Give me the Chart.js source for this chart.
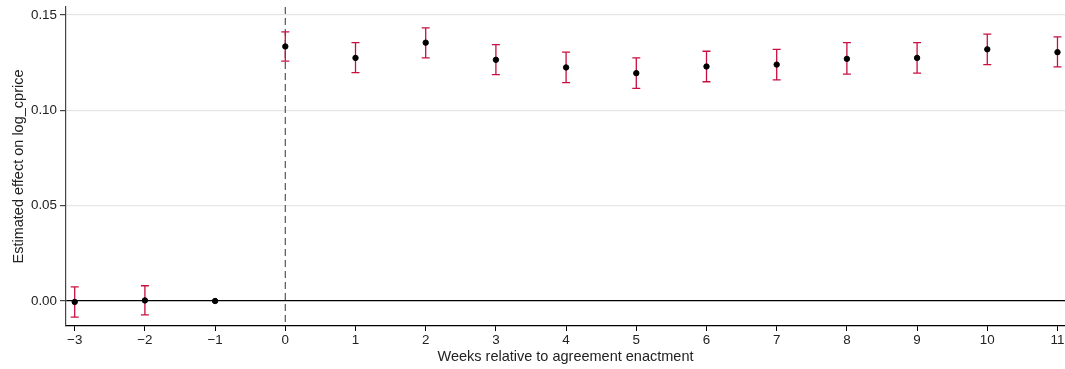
<!DOCTYPE html>
<html>
<head>
<meta charset="utf-8">
<script src="https://cdn.jsdelivr.net/npm/chart.js@4.4.1/dist/chart.umd.min.js"></script>
<style>
  html, body { margin: 0; padding: 0; background: #fff; }
  #wrap { width: 1065px; height: 369px; }
</style>
</head>
<body>
<div id="wrap"><canvas id="myChart" width="1065" height="369"></canvas></div>
<script>
// event-study estimates
const weeks = [-3, -2, -1, 0, 1, 2, 3, 4, 5, 6, 7, 8, 9, 10, 11];
const estimate = [-0.0005, 0.0003, 0, 0.1335, 0.1275, 0.1355, 0.1265, 0.1225, 0.1195, 0.123, 0.124, 0.127, 0.1275, 0.132, 0.1305];
const ciLow = [-0.0085, -0.0073, null, 0.1258, 0.1198, 0.1275, 0.1187, 0.1145, 0.1115, 0.115, 0.116, 0.119, 0.1195, 0.124, 0.1228];
const ciHigh = [0.0074, 0.008, null, 0.1412, 0.1355, 0.1432, 0.1345, 0.1305, 0.1275, 0.131, 0.132, 0.1355, 0.1355, 0.140, 0.1385];
const yTicks = [0, 0.05, 0.10, 0.15];
const xTicks = weeks;

const errBarColor = 'rgb(200,16,64)';

// Error bar plugin
const errorBars = {
  id: 'errorBars',
  beforeDatasetsDraw(chart) {
    const ctx = chart.ctx;
    const xs = chart.scales.x, ys = chart.scales.y;
    ctx.save();
    ctx.strokeStyle = errBarColor;
    ctx.lineWidth = 1.3;
    weeks.forEach((w, i) => {
      if (ciLow[i] == null) return;
      const px = xs.getPixelForValue(w);
      const lo = ys.getPixelForValue(ciLow[i]);
      const hi = ys.getPixelForValue(ciHigh[i]);
      ctx.beginPath();
      ctx.moveTo(px, lo); ctx.lineTo(px, hi);
      ctx.moveTo(px - 4, lo); ctx.lineTo(px + 4, lo);
      ctx.moveTo(px - 4, hi); ctx.lineTo(px + 4, hi);
      ctx.stroke();
    });
    ctx.restore();
  }
};

// dashed line at week 0
const eventLine = {
  id: 'eventLine',
  beforeDatasetsDraw(chart) {
    const ctx = chart.ctx;
    const a = chart.chartArea;
    const px = chart.scales.x.getPixelForValue(0);
    ctx.save();
    ctx.strokeStyle = '#555';
    ctx.lineWidth = 1.2;
    ctx.setLineDash([7, 4]);
    ctx.beginPath();
    ctx.moveTo(px, a.top);
    ctx.lineTo(px, a.bottom);
    ctx.stroke();
    ctx.restore();
  }
};

const tickFont = { family: '"Liberation Sans", Arial, sans-serif', size: 13.4 };
const titleFont = { family: '"Liberation Sans", Arial, sans-serif', size: 14.5 };

new Chart(document.getElementById('myChart'), {
  type: 'scatter',
  data: {
    datasets: [{
      data: weeks.map((w, i) => ({ x: w, y: estimate[i] })),
      backgroundColor: '#000',
      borderColor: '#000',
      pointRadius: 2.7,
      pointHoverRadius: 2.7
    }]
  },
  options: {
    responsive: false,
    animation: false,
    events: [],
    layout: { autoPadding: false, padding: { top: 7, right: 0, left: 0, bottom: 0 } },
    plugins: { legend: { display: false }, tooltip: { enabled: false } },
    scales: {
      x: {
        type: 'linear',
        min: -3.124,
        max: 11.107,
        afterBuildTicks: s => { s.ticks = xTicks.map(v => ({ value: v })); },
        afterFit: s => { s.height = 43; s.paddingLeft = 0; s.paddingRight = 0; },
        border: { color: '#000', width: 1.2 },
        grid: { drawOnChartArea: false, drawTicks: true, tickLength: 5, tickColor: '#000' },
        ticks: { font: tickFont, color: '#222', padding: 1, maxRotation: 0,
          callback: v => String(v).replace('-', '\u2212') },
        title: { display: true, text: 'Weeks relative to agreement enactment', font: titleFont, color: '#222', padding: { top: 0, bottom: 3 } }
      },
      y: {
        min: -0.01311,
        max: 0.1542,
        afterBuildTicks: s => { s.ticks = yTicks.map(v => ({ value: v })); },
        afterFit: s => { s.width = 66; s.paddingTop = 0; s.paddingBottom = 0; },
        border: { color: '#444', width: 1.2 },
        grid: {
          color: c => (c.tick && c.tick.value === 0) ? '#000' : '#e6e6e6',
          lineWidth: 1.2,
          tickColor: '#444',
          tickLength: 6
        },
        ticks: { font: tickFont, color: '#222', padding: 3, callback: v => Number(v).toFixed(2) },
        title: { display: true, text: 'Estimated effect on log_cprice', font: titleFont, color: '#222', padding: { top: 10, bottom: 0 } }
      }
    }
  },
  plugins: [eventLine, errorBars]
});
</script>
</body>
</html>
